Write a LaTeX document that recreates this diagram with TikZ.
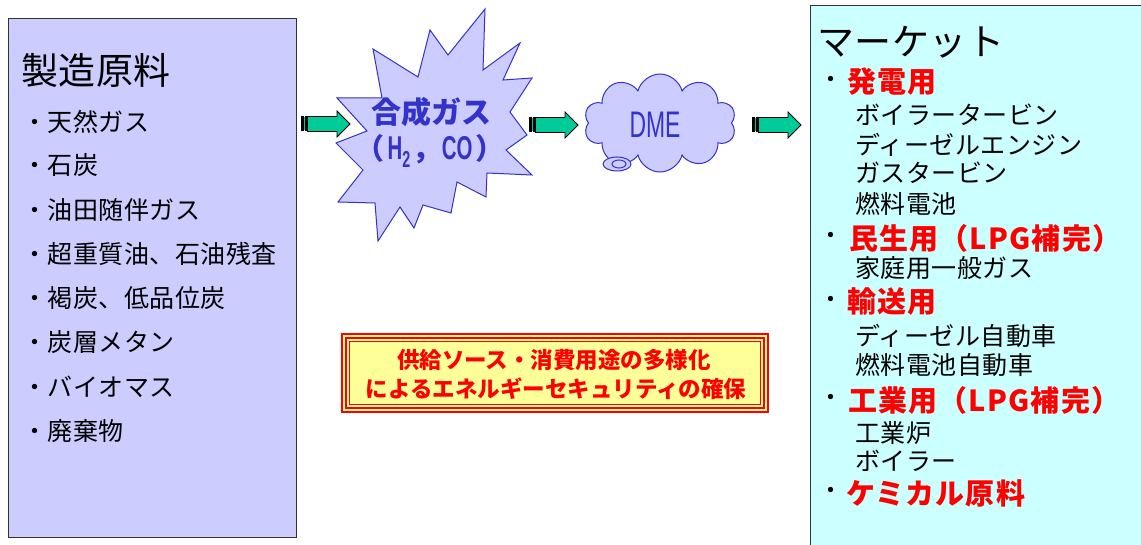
\documentclass[tikz,border=0pt]{standalone}
\usepackage{fontspec}
\usepackage{graphicx}
\setmainfont{Noto Sans CJK JP}
\newfontfamily\latinnarrow[FakeStretch=0.66]{Liberation Sans}
\newfontfamily\latinnarrowb[FakeStretch=0.62]{Liberation Sans}
\usetikzlibrary{shapes.symbols}
\definecolor{lav}{HTML}{CCCCFF}
\definecolor{cyanfill}{HTML}{CCFFFF}
\definecolor{ylw}{HTML}{FFFF99}
\definecolor{grn}{HTML}{00CC99}
\definecolor{blu}{HTML}{3333CC}
\definecolor{rd}{HTML}{FF0000}
\tikzset{
  panel/.style={draw=black!80, line width=1pt},
  item/.style={anchor=west, inner sep=0pt, font=\fontsize{25}{25}\selectfont\addfontfeatures{LetterSpace=2}, text=black},
  sub/.style={anchor=west, inner sep=0pt, font=\fontsize{25}{25}\selectfont\addfontfeatures{LetterSpace=2}, text=black},
  redhead/.style={anchor=west, inner sep=0pt, font=\bfseries\fontsize{29}{29}\selectfont\addfontfeatures{LetterSpace=4}, text=rd},
  bigtitle/.style={anchor=west, inner sep=0pt, font=\fontsize{37}{37}\selectfont\addfontfeatures{LetterSpace=1.5}, text=black},
  bluetext/.style={inner sep=0pt, text=blu, font=\bfseries\fontsize{30}{30}\selectfont},
  arrowfill/.style={fill=grn, draw=black, line width=0.9pt, line join=miter},
  pics/blockarrow/.style={code={
    \fill[black] (0,-7.5) rectangle (2.5,7.5);
    \fill[grn] (2.5,-6.5) rectangle (4,6.5);
    \fill[black] (4,-7.5) rectangle (6,7.5);
    \path[arrowfill] (6.5,-7.5) -- (36,-7.5) -- (36,-13) -- (49,0) -- (36,13) -- (36,7.5) -- (6.5,7.5) -- cycle;
  }}
}
\begin{document}
\begin{tikzpicture}[x=1pt,y=-1pt]
\useasboundingbox (0,0) rectangle (1141,545);
\fill[white] (0,0) rectangle (1141,545);

% left panel
\node[panel, fill=lav, minimum width=288, minimum height=519, inner sep=0pt, anchor=north west] (src) at (8,18) {};
\node[bigtitle] (srct) at (21,70) {製造原料};
\node[item] (s1) at (22,122) {・天然ガス};
\node[item] (s2) at (22,165) {・石炭};
\node[item] (s3) at (22,210) {・油田随伴ガス};
\node[item] (s4) at (22,254) {・超重質油、石油残査};
\node[item] (s5) at (22,298) {・褐炭、低品位炭};
\node[item] (s6) at (22,342) {・炭層メタン};
\node[item] (s7) at (22,387) {・バイオマス};
\node[item] (s8) at (22,431) {・廃棄物};

% right panel
\node[panel, fill=cyanfill, minimum width=340, minimum height=550, inner sep=0pt, anchor=north west] (mkt) at (810,5) {};
\node[bigtitle] (mktt) at (817,42) {マーケット};
\node[item] (b1) at (818,82) {・};
\node[redhead] (m1) at (847,82) {発電用};
\node[sub] (m1a) at (855,115) {ボイラータービン};
\node[sub] (m1b) at (855,145) {ディーゼルエンジン};
\node[sub] (m1c) at (855,173) {ガスタービン};
\node[sub] (m1d) at (855,204) {燃料電池};
\node[item] (b2) at (818,238) {・};
\node[redhead] (m2) at (849,238) {民生用（LPG補完）};
\node[sub] (m2a) at (855,268) {家庭用一般ガス};
\node[item] (b3) at (818,302) {・};
\node[redhead] (m3) at (847,302) {輸送用};
\node[sub] (m3a) at (855,336) {ディーゼル自動車};
\node[sub] (m3b) at (855,365) {燃料電池自動車};
\node[item] (b4) at (818,400) {・};
\node[redhead] (m4) at (848,400) {工業用（LPG補完）};
\node[sub] (m4a) at (855,433) {工業炉};
\node[sub] (m4b) at (855,461) {ボイラー};
\node[item] (b5) at (818,493) {・};
\node[redhead] (m5) at (846,493) {ケミカル原料};

% starburst
\path[fill=lav, draw=blu, line width=1pt, line join=miter]
  (485,9) -- (483,70) -- (520,43) -- (503,80) -- (532,78) -- (510,112) -- (527,135)
  -- (506,150) -- (532,175) -- (487,173) -- (486,197) -- (457,182) -- (451,213)
  -- (423,205) -- (414,228) -- (400,207) -- (378,241) -- (375,203) -- (338,202)
  -- (363,170) -- (336,143) -- (367,131) -- (337,98) -- (382,98) -- (373,49)
  -- (418,77) -- (430,30) -- (448,55) -- cycle;
\node[bluetext] (syn1) at (431,112) {合成ガス};
\node[bluetext, font=\bfseries\fontsize{29}{29}\selectfont] (syn2) at (430,151) {（\hspace{3pt}{\latinnarrowb\fontsize{33}{33}\selectfont H\textsubscript{2}}\hspace{2pt}，{\latinnarrowb\fontsize{33}{33}\selectfont CO}\hspace{3pt}）};

% cloud
\node[cloud, cloud puffs=10, cloud ignores aspect, draw=blu, fill=lav, line width=1pt, minimum width=152, minimum height=98, inner sep=0pt] (dme) at (660,123) {};
\draw[blu, fill=lav, line width=1pt] (617,164) ellipse (14 and 7);
\draw[blu, line width=1pt] (619,164) ellipse (7 and 4);
\node[inner sep=0pt, text=blu, font=\latinnarrowb\fontsize{37}{37}\selectfont] (dmet) at (655,125) {DME};

% arrows
\pic at (301,124) {blockarrow};
\pic at (529,125) {blockarrow};
\pic at (752,125) {blockarrow};

% red framed note
\node[fill=ylw, draw=rd, line width=2.5pt, minimum width=426, minimum height=78, inner sep=0pt] (note) at (555,373) {};
\draw[rd, line width=1.6pt] ([shift={(5,5)}]note.north west) rectangle ([shift={(-5,-5)}]note.south east);
\draw[rd, line width=1.4pt] ([shift={(8.5,8.5)}]note.north west) rectangle ([shift={(-8.5,-8.5)}]note.south east);
\node[inner sep=0pt, text=rd, font=\bfseries\fontsize{22.5}{22.5}\selectfont] (n1) at (554,360) {供給ソース・消費用途の多様化};
\node[inner sep=0pt, text=rd, font=\bfseries\fontsize{22.5}{22.5}\selectfont] (n2) at (556,389) {によるエネルギーセキュリティの確保};
\end{tikzpicture}
\end{document}
